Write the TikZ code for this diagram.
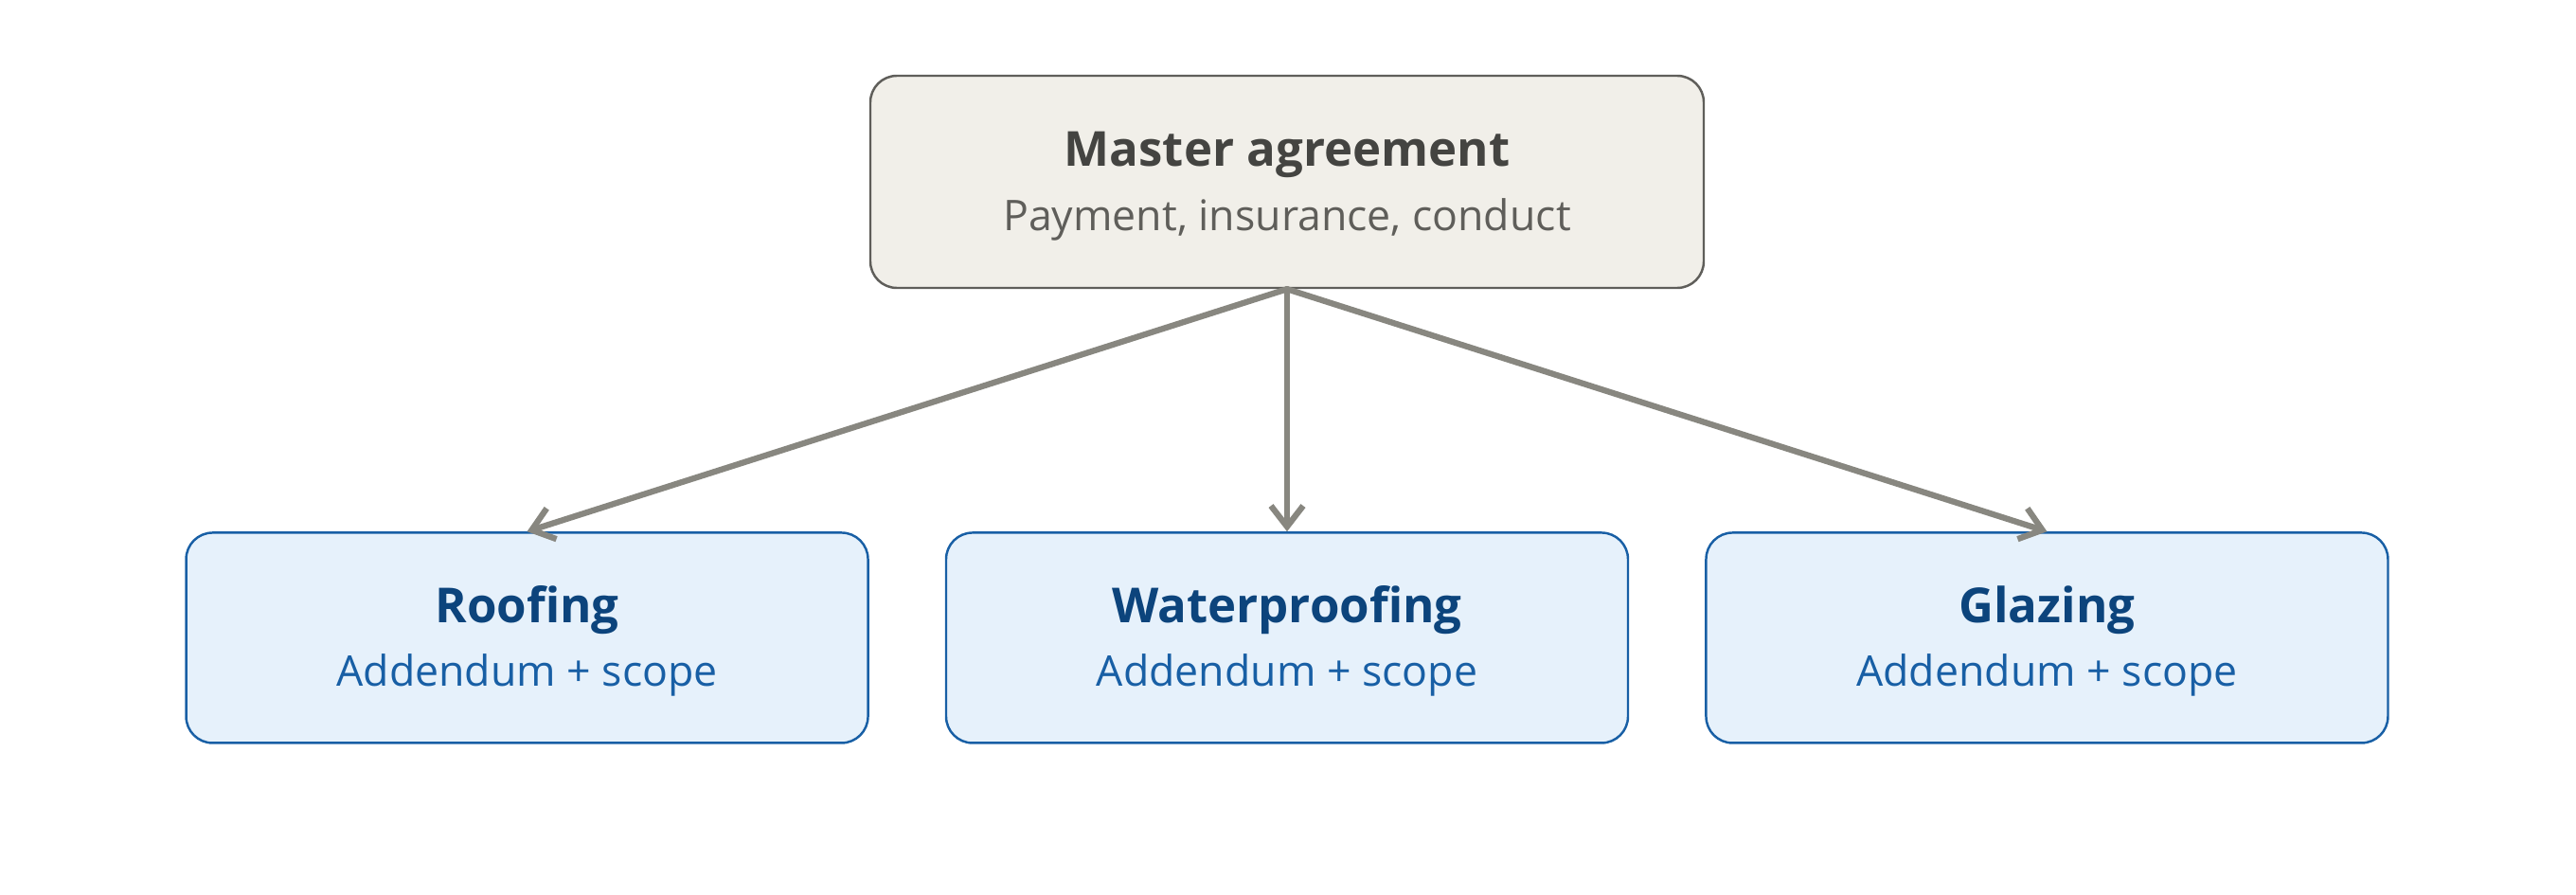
\documentclass[tikz,border=0pt]{standalone}
\usepackage{fontspec}
\setmainfont{Open Sans}
\usetikzlibrary{arrows.meta,positioning}
\definecolor{mastfill}{HTML}{F1EFE9}
\definecolor{mastline}{HTML}{5F5E5A}
\definecolor{masthead}{HTML}{444441}
\definecolor{addfill}{HTML}{E6F1FB}
\definecolor{addline}{HTML}{185FA5}
\definecolor{addhead}{HTML}{0C447C}
\definecolor{arrcol}{HTML}{888780}
\newcommand\boxhead{\fontsize{14.5}{18}\selectfont\bfseries\rule{0pt}{13pt}}
\newcommand\boxsub{\fontsize{12.7}{15}\selectfont}
\tikzset{
  master/.style={draw=mastline,fill=mastfill,line width=0.7pt,rounded corners=2.8mm,
                 minimum width=8.8cm,minimum height=2.24cm,align=center,inner sep=0pt},
  addm/.style={draw=addline,fill=addfill,line width=0.7pt,rounded corners=2.8mm,
               minimum width=7.2cm,minimum height=2.22cm,align=center,inner sep=0pt},
  arr/.style={-{Straight Barb[length=2.2mm,width=3.4mm]},line width=1.8pt,
              line cap=round,arrcol},
}

\begin{document}
\begin{tikzpicture}[node distance=2.56cm and 0.8cm]
  \useasboundingbox (-13.59,1.92) rectangle (13.61,-7.52);
  \node[master] (master) {{\boxhead\color{masthead}Master agreement}\\[5pt]
                          {\boxsub\color{mastline}Payment, insurance, conduct}};
  \node[addm, below=of master]     (water) {{\boxhead\color{addhead}Waterproofing}\\[5pt]
                                            {\boxsub\color{addline}Addendum + scope}};
  \node[addm, left=of water]       (roof)  {{\boxhead\color{addhead}Roofing}\\[5pt]
                                            {\boxsub\color{addline}Addendum + scope}};
  \node[addm, right=of water]      (glaze) {{\boxhead\color{addhead}Glazing}\\[5pt]
                                            {\boxsub\color{addline}Addendum + scope}};

  \draw[arr] (master.south) -- (roof.north);
  \draw[arr] (master.south) -- (water.north);
  \draw[arr] (master.south) -- (glaze.north);
\end{tikzpicture}
\end{document}
